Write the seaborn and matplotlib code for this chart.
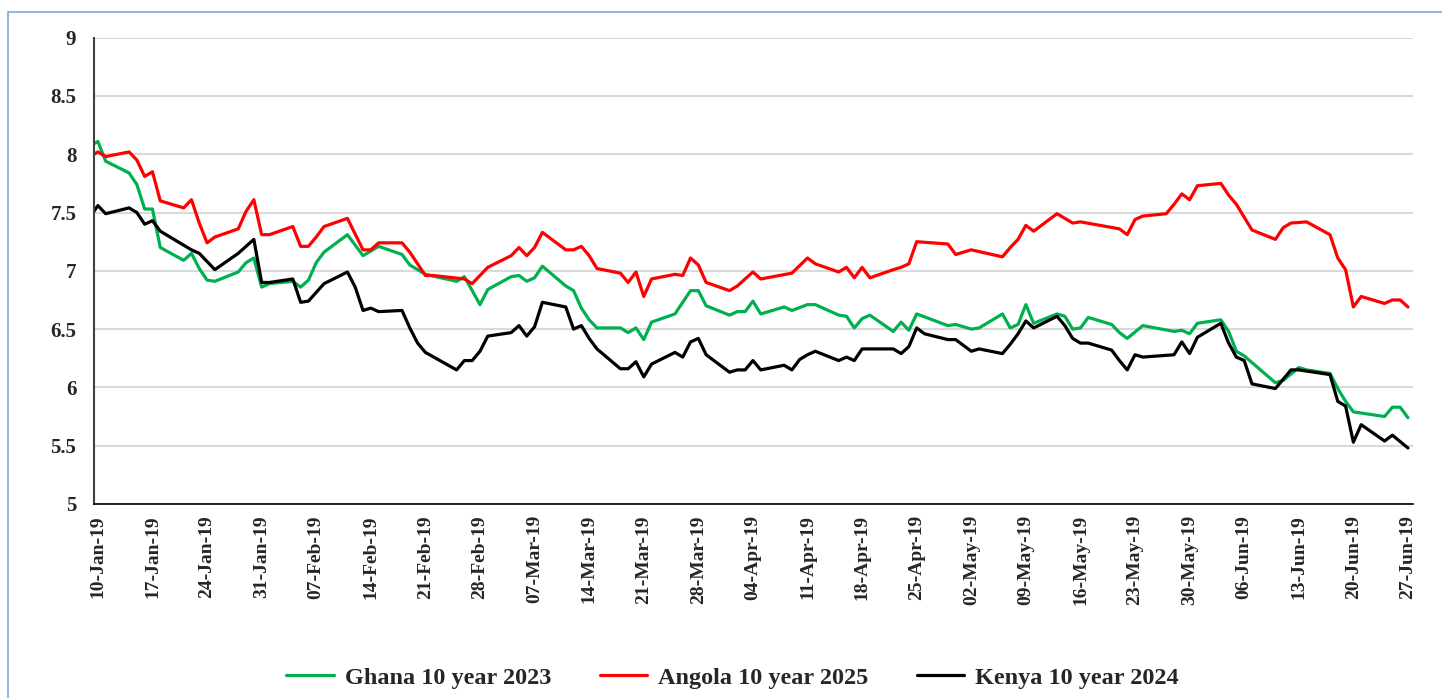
import matplotlib
matplotlib.use("Agg")
import matplotlib.pyplot as plt
from matplotlib.patches import Rectangle
from matplotlib.ticker import FormatStrFormatter
import seaborn as sns
import pandas as pd

# 10-year eurobond yields (%), 2019
ghana_days = ["09-Jan", "10-Jan", "11-Jan", "14-Jan", "15-Jan", "16-Jan", "17-Jan", "18-Jan", "21-Jan", "22-Jan",
              "23-Jan", "24-Jan", "25-Jan", "28-Jan", "29-Jan", "30-Jan", "31-Jan",
              "01-Feb", "04-Feb", "05-Feb", "06-Feb", "07-Feb", "08-Feb", "11-Feb", "13-Feb", "15-Feb", "18-Feb",
              "19-Feb", "21-Feb", "25-Feb", "26-Feb", "28-Feb",
              "01-Mar", "04-Mar", "05-Mar", "06-Mar", "07-Mar", "08-Mar", "11-Mar", "12-Mar", "13-Mar", "14-Mar",
              "15-Mar", "18-Mar", "19-Mar", "20-Mar", "21-Mar", "22-Mar", "25-Mar", "26-Mar", "27-Mar", "28-Mar",
              "29-Mar",
              "01-Apr", "02-Apr", "03-Apr", "04-Apr", "05-Apr", "08-Apr", "09-Apr", "11-Apr", "12-Apr", "15-Apr",
              "16-Apr", "17-Apr", "18-Apr", "19-Apr", "22-Apr", "23-Apr", "24-Apr", "25-Apr", "29-Apr", "30-Apr",
              "02-May", "03-May", "06-May", "07-May", "08-May", "09-May", "10-May", "13-May", "14-May", "15-May",
              "16-May", "17-May", "20-May", "21-May", "22-May", "24-May", "28-May", "29-May", "30-May", "31-May",
              "03-Jun", "04-Jun", "05-Jun", "06-Jun", "10-Jun", "11-Jun", "13-Jun", "14-Jun", "17-Jun", "18-Jun",
              "19-Jun", "20-Jun", "21-Jun", "24-Jun", "25-Jun", "26-Jun", "27-Jun"]
ghana_yield = [8.07, 8.11, 7.94, 7.84, 7.74, 7.53, 7.53, 7.20, 7.09, 7.15, 7.02, 6.92, 6.91, 6.99, 7.07, 7.11, 6.86,
               6.89, 6.91, 6.86, 6.92, 7.07, 7.16, 7.31, 7.13, 7.21, 7.14, 7.05, 6.97, 6.91, 6.95, 6.71,
               6.84, 6.95, 6.96, 6.91, 6.94, 7.04, 6.87, 6.83, 6.68, 6.58, 6.51, 6.51, 6.47, 6.51, 6.41, 6.56, 6.63,
               6.73, 6.83, 6.83, 6.70,
               6.62, 6.65, 6.65, 6.74, 6.63, 6.69, 6.66, 6.71, 6.71, 6.62, 6.61, 6.51, 6.59, 6.62, 6.48, 6.56, 6.49,
               6.63, 6.53, 6.54,
               6.50, 6.51, 6.63, 6.51, 6.54, 6.71, 6.55, 6.63, 6.61, 6.50, 6.51, 6.60, 6.54, 6.47, 6.42, 6.53, 6.48,
               6.49, 6.46, 6.55,
               6.58, 6.48, 6.31, 6.27, 6.04, 6.06, 6.17, 6.15, 6.12, 5.99, 5.88, 5.79, 5.78, 5.75, 5.83, 5.83, 5.74]

angola_days = ["09-Jan", "10-Jan", "11-Jan", "14-Jan", "15-Jan", "16-Jan", "17-Jan", "18-Jan", "21-Jan", "22-Jan",
               "23-Jan", "24-Jan", "25-Jan", "28-Jan", "29-Jan", "30-Jan", "31-Jan",
               "01-Feb", "04-Feb", "05-Feb", "06-Feb", "07-Feb", "08-Feb", "11-Feb", "13-Feb", "14-Feb", "15-Feb",
               "18-Feb", "19-Feb", "21-Feb", "22-Feb", "26-Feb", "27-Feb",
               "01-Mar", "04-Mar", "05-Mar", "06-Mar", "07-Mar", "08-Mar", "11-Mar", "12-Mar", "13-Mar", "14-Mar",
               "15-Mar", "18-Mar", "19-Mar", "20-Mar", "21-Mar", "22-Mar", "25-Mar", "26-Mar", "27-Mar", "28-Mar",
               "29-Mar",
               "01-Apr", "02-Apr", "04-Apr", "05-Apr", "09-Apr", "11-Apr", "12-Apr", "15-Apr", "16-Apr", "17-Apr",
               "18-Apr", "19-Apr", "22-Apr", "23-Apr", "24-Apr", "25-Apr", "29-Apr", "30-Apr",
               "02-May", "06-May", "07-May", "08-May", "09-May", "10-May", "13-May", "15-May", "16-May", "21-May",
               "22-May", "23-May", "24-May", "27-May", "28-May", "29-May", "30-May", "31-May",
               "03-Jun", "04-Jun", "05-Jun", "06-Jun", "07-Jun", "10-Jun", "11-Jun", "12-Jun", "14-Jun", "17-Jun",
               "18-Jun", "19-Jun", "20-Jun", "21-Jun", "24-Jun", "25-Jun", "26-Jun", "27-Jun"]
angola_yield = [7.98, 8.02, 7.98, 8.02, 7.95, 7.81, 7.85, 7.60, 7.54, 7.61, 7.41, 7.24, 7.29, 7.36, 7.51, 7.61, 7.31,
                7.31, 7.38, 7.21, 7.21, 7.29, 7.38, 7.45, 7.18, 7.18, 7.24, 7.24, 7.16, 6.96, 6.96, 6.93, 6.89,
                7.03, 7.13, 7.20, 7.13, 7.20, 7.33, 7.18, 7.18, 7.21, 7.13, 7.02, 6.98, 6.90, 6.99, 6.78, 6.93, 6.97,
                6.96, 7.11, 7.05, 6.90,
                6.83, 6.87, 6.99, 6.93, 6.98, 7.11, 7.06, 6.99, 7.03, 6.94, 7.03, 6.94, 7.01, 7.03, 7.06, 7.25, 7.23,
                7.14,
                7.18, 7.12, 7.20, 7.27, 7.39, 7.34, 7.49, 7.41, 7.42, 7.36, 7.31, 7.44, 7.47, 7.49, 7.57, 7.66, 7.61,
                7.73,
                7.75, 7.65, 7.57, 7.46, 7.35, 7.27, 7.37, 7.41, 7.42, 7.31, 7.11, 7.01, 6.69, 6.78, 6.72, 6.75, 6.75,
                6.69]

kenya_days = ["09-Jan", "10-Jan", "11-Jan", "14-Jan", "15-Jan", "16-Jan", "17-Jan", "18-Jan", "22-Jan", "23-Jan",
              "25-Jan", "28-Jan", "30-Jan", "31-Jan",
              "01-Feb", "04-Feb", "05-Feb", "06-Feb", "08-Feb", "11-Feb", "12-Feb", "13-Feb", "14-Feb", "15-Feb",
              "18-Feb", "19-Feb", "20-Feb", "21-Feb", "25-Feb", "26-Feb", "27-Feb", "28-Feb",
              "01-Mar", "04-Mar", "05-Mar", "06-Mar", "07-Mar", "08-Mar", "11-Mar", "12-Mar", "13-Mar", "14-Mar",
              "15-Mar", "18-Mar", "19-Mar", "20-Mar", "21-Mar", "22-Mar", "25-Mar", "26-Mar", "27-Mar", "28-Mar",
              "29-Mar",
              "01-Apr", "02-Apr", "03-Apr", "04-Apr", "05-Apr", "08-Apr", "09-Apr", "10-Apr", "11-Apr", "12-Apr",
              "15-Apr", "16-Apr", "17-Apr", "18-Apr", "22-Apr", "23-Apr", "24-Apr", "25-Apr", "26-Apr", "29-Apr",
              "30-Apr",
              "02-May", "03-May", "06-May", "07-May", "08-May", "09-May", "10-May", "13-May", "14-May", "15-May",
              "16-May", "17-May", "20-May", "21-May", "22-May", "23-May", "24-May", "28-May", "29-May", "30-May",
              "31-May",
              "03-Jun", "04-Jun", "05-Jun", "06-Jun", "07-Jun", "10-Jun", "11-Jun", "12-Jun", "13-Jun", "17-Jun",
              "18-Jun", "19-Jun", "20-Jun", "21-Jun", "24-Jun", "25-Jun", "27-Jun"]
kenya_yield = [7.46, 7.56, 7.49, 7.54, 7.50, 7.40, 7.43, 7.34, 7.18, 7.15, 7.01, 7.15, 7.27, 6.90,
               6.90, 6.93, 6.73, 6.74, 6.89, 6.99, 6.86, 6.66, 6.68, 6.65, 6.66, 6.51, 6.38, 6.30, 6.15, 6.23, 6.23,
               6.31,
               6.44, 6.47, 6.53, 6.44, 6.52, 6.73, 6.69, 6.50, 6.53, 6.42, 6.33, 6.16, 6.16, 6.22, 6.09, 6.20, 6.30,
               6.26, 6.39, 6.42, 6.28,
               6.13, 6.15, 6.15, 6.23, 6.15, 6.19, 6.15, 6.24, 6.28, 6.31, 6.23, 6.26, 6.23, 6.33, 6.33, 6.29, 6.35,
               6.51, 6.46, 6.41, 6.41,
               6.31, 6.33, 6.29, 6.37, 6.46, 6.57, 6.51, 6.61, 6.53, 6.42, 6.38, 6.38, 6.32, 6.23, 6.15, 6.28, 6.26,
               6.28, 6.39, 6.29, 6.43,
               6.55, 6.38, 6.26, 6.23, 6.03, 5.99, 6.07, 6.15, 6.15, 6.11, 5.88, 5.84, 5.53, 5.68, 5.54, 5.59, 5.48]

series = [
    ("Ghana 10 year 2023", ghana_days, ghana_yield, "#00B050"),
    ("Angola 10 year 2025", angola_days, angola_yield, "#FF0000"),
    ("Kenya 10 year 2024", kenya_days, kenya_yield, "#000000"),
]

y_ticks = [5, 5.5, 6, 6.5, 7, 7.5, 8, 8.5, 9]
first_tick = "2019-01-10"
last_tick = "2019-06-27"


def _to_dates(days):
    '''turn "dd-Mon" strings into 2019 timestamps'''
    return pd.to_datetime([d + "-2019" for d in days], format="%d-%b-%Y")


sns.set_style("white")
plt.rcParams['font.family'] = ['Liberation Serif', 'DejaVu Serif']
plt.rcParams['font.weight'] = 'bold'

fig = plt.figure(figsize=(14.42, 6.98), dpi=100)
ax = fig.add_axes([0.0654, 0.278, 0.9146, 0.668])

for name, days, values, color in series:
    df = pd.DataFrame({"date": _to_dates(days), "yield": values})
    sns.lineplot(data=df, x="date", y="yield", ax=ax, color=color, linewidth=2.3, label=name)

# axes limits and ticks
start = pd.Timestamp(first_tick)
end = pd.Timestamp(last_tick)
ax.set_xlim(start - pd.Timedelta(hours=11), end + pd.Timedelta(hours=16))
ax.set_ylim(5, 9)
ax.set_yticks(y_ticks)
ax.yaxis.set_major_formatter(FormatStrFormatter('%g'))
ticks = pd.date_range(start, end, freq="7D")
ax.set_xticks(ticks)
ax.set_xticklabels([t.strftime("%d-%b-%y") for t in ticks], rotation=90, fontsize=14, fontweight='bold')
ax.tick_params(axis='y', labelsize=15, length=0, pad=13)
ax.tick_params(axis='x', length=0, pad=8)
for lab in ax.get_yticklabels():
    lab.set_fontweight('bold')

ax.grid(axis='y', color='#d9d9d9', linewidth=1.5)
ax.set_axisbelow(True)
ax.set_xlabel("")
ax.set_ylabel("")

for side in ['top', 'right']:
    ax.spines[side].set_visible(False)
ax.spines['left'].set_color('#404040')
ax.spines['left'].set_linewidth(1.5)
ax.spines['bottom'].set_color('#000000')
ax.spines['bottom'].set_linewidth(1.2)

# legend below the chart
ax.legend_.remove()
handles, labels = ax.get_legend_handles_labels()
fig.legend(handles, labels, loc='center', bbox_to_anchor=(0.508, 0.029), ncol=3, frameon=False,
           prop={'family': 'Liberation Serif', 'weight': 'bold', 'size': 17.5},
           handlelength=1.95, handletextpad=0.45, columnspacing=2.0)

# chart-area border
fig.patches.append(Rectangle((8 / 1442, -0.1), 1.2, 1.083, transform=fig.transFigure,
                             fill=False, edgecolor='#7FA7E0', linewidth=1.2))

plt.savefig("out.png", dpi=100)
